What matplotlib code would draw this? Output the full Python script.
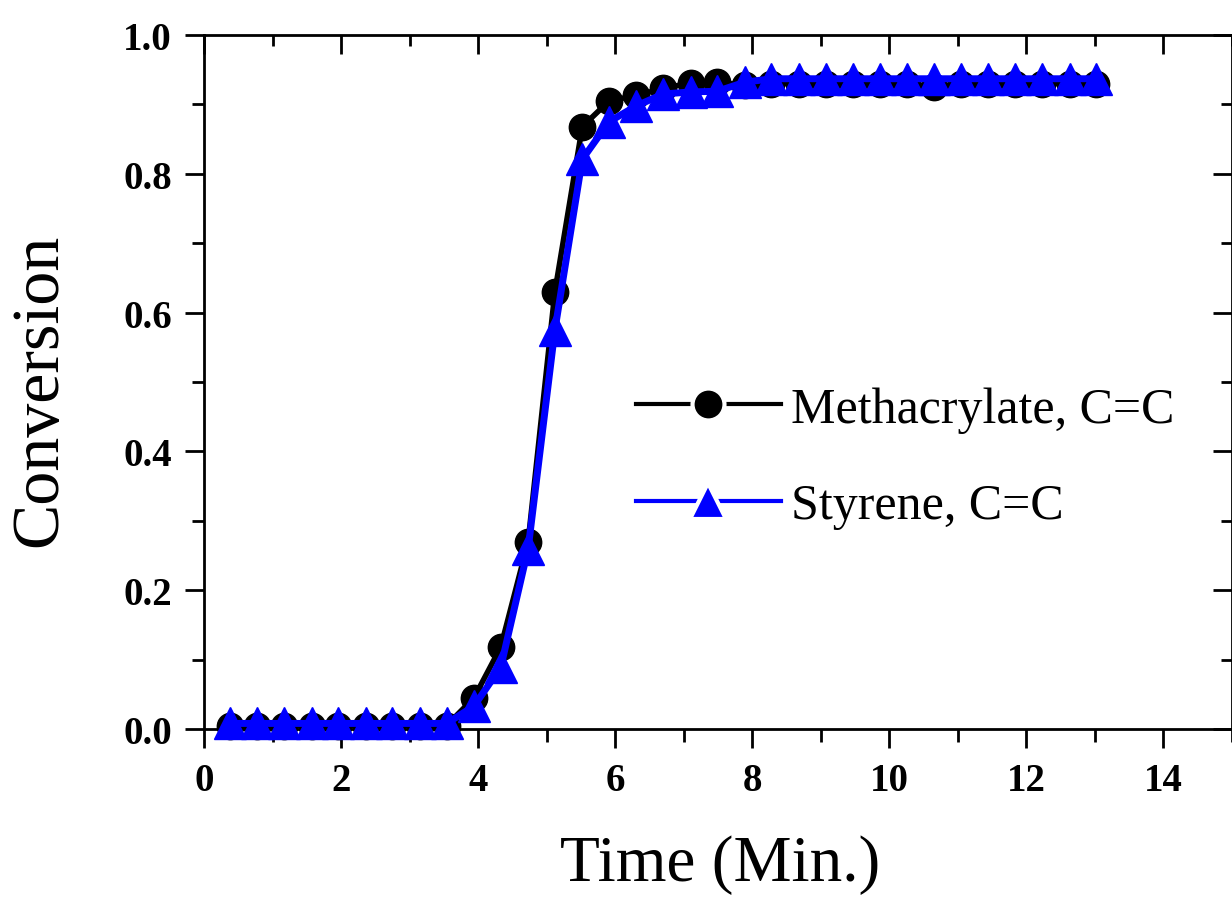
import matplotlib
matplotlib.use("Agg")
import matplotlib.pyplot as plt
from matplotlib.lines import Line2D
from matplotlib.ticker import MultipleLocator, FormatStrFormatter

# --- данные ---
time_min = [0.38, 0.78, 1.17, 1.57, 1.96, 2.36, 2.75, 3.15, 3.54, 3.94, 4.33,
            4.73, 5.12, 5.52, 5.91, 6.31, 6.70, 7.10, 7.49, 7.89, 8.28, 8.68,
            9.07, 9.47, 9.86, 10.26, 10.65, 11.05, 11.44, 11.84, 12.23, 12.63, 13.02]

methacrylate = [0.005, 0.005, 0.005, 0.005, 0.005, 0.005, 0.005, 0.005, 0.005,
                0.045, 0.118, 0.27, 0.63, 0.868, 0.905, 0.913, 0.923, 0.931,
                0.932, 0.928, 0.93, 0.93, 0.93, 0.93, 0.93, 0.93, 0.925, 0.93,
                0.93, 0.93, 0.93, 0.93, 0.93]

styrene = [0.008, 0.008, 0.008, 0.008, 0.008, 0.008, 0.008, 0.008, 0.008,
           0.033, 0.089, 0.26, 0.575, 0.821, 0.875, 0.898, 0.915, 0.918,
           0.919, 0.932, 0.937, 0.937, 0.937, 0.937, 0.937, 0.937, 0.937,
           0.937, 0.937, 0.937, 0.937, 0.937, 0.937]

labels = ["Methacrylate, C=C", "Styrene, C=C"]

plt.rcParams['font.family'] = ['Liberation Serif', 'DejaVu Serif']

fig = plt.figure(figsize=(12.32, 9.03), dpi=100)
ax = fig.add_axes([0.1656, 0.1916, 0.8344, 0.7685])

ax.plot(time_min, methacrylate, color='black', lw=4, marker='o', ms=19,
        clip_on=False, zorder=3)
ax.plot(time_min, styrene, color='#0000ff', lw=5, marker='^', ms=23,
        clip_on=False, zorder=4)

ax.set_xlim(0, 15)
ax.set_ylim(0, 1.0)
ax.xaxis.set_major_locator(MultipleLocator(2))
ax.xaxis.set_minor_locator(MultipleLocator(1))
ax.yaxis.set_major_locator(MultipleLocator(0.2))
ax.yaxis.set_minor_locator(MultipleLocator(0.1))
ax.yaxis.set_major_formatter(FormatStrFormatter('%.1f'))

for s in ax.spines.values():
    s.set_linewidth(2)

# низ/лево — наружу, верх/право — внутрь (как в Origin)
ax.tick_params(which='both', direction='out', width=2, labelsize=28)
ax.tick_params(axis='x', pad=10)
ax.tick_params(axis='y', pad=9)
ax.tick_params(which='major', length=14)
ax.tick_params(which='minor', length=9)
ax.tick_params(which='both', top=False, right=False)
for lbl in ax.get_xticklabels() + ax.get_yticklabels():
    lbl.set_fontweight('bold')

# отдельные тики для верхней и правой осей, направленные внутрь
sec_x = ax.secondary_xaxis('top')
sec_x.xaxis.set_major_locator(MultipleLocator(2))
sec_x.xaxis.set_minor_locator(MultipleLocator(1))
sec_x.tick_params(which='both', direction='in', width=2, labeltop=False)
sec_x.tick_params(which='major', length=14)
sec_x.tick_params(which='minor', length=8)
sec_y = ax.secondary_yaxis('right')
sec_y.yaxis.set_major_locator(MultipleLocator(0.2))
sec_y.yaxis.set_minor_locator(MultipleLocator(0.1))
sec_y.tick_params(which='both', direction='in', width=2, labelright=False)
sec_y.tick_params(which='major', length=14)
sec_y.tick_params(which='minor', length=8)

ax.set_xlabel('Time (Min.)', fontsize=47)
ax.set_ylabel('Conversion', fontsize=49)
ax.xaxis.set_label_coords(0.502, -0.152)
ax.yaxis.set_label_coords(-0.13, 0.49)

handles = [
    Line2D([], [], color='black', lw=3, marker='o', ms=23, mfc='black',
           mec='white', mew=3),
    Line2D([], [], color='#0000ff', lw=3, marker='^', ms=26, mfc='#0000ff',
           mec='white', mew=3),
]
ax.legend(handles, labels, loc='center left', bbox_to_anchor=(0.42, 0.391),
          frameon=False, fontsize=36, handlelength=2.9, handletextpad=0.2,
          labelspacing=1.0, borderpad=0, borderaxespad=0)

fig.savefig('out.png', dpi=100)
